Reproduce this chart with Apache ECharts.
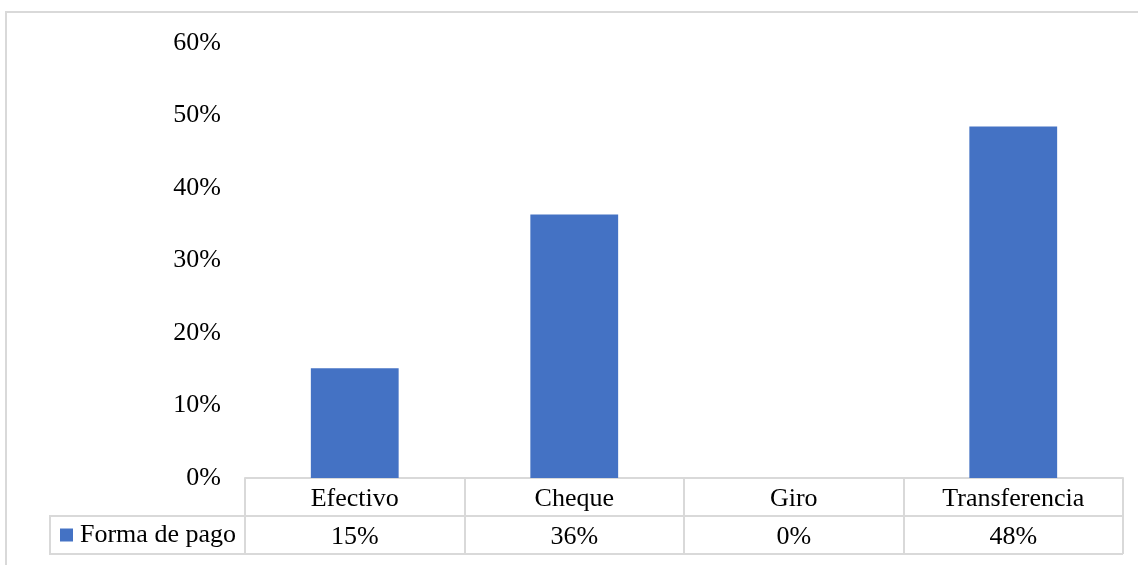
<!DOCTYPE html>
<html>
<head>
<meta charset="utf-8">
<script src="https://cdn.jsdelivr.net/npm/echarts@6/dist/echarts.min.js"></script>
<style>
html,body{margin:0;padding:0;background:#fff;}
#chart{width:1138px;height:565px;}
</style>
</head>
<body>
<div id="chart"></div>
<script>
var categories = ['Efectivo', 'Cheque', 'Giro', 'Transferencia'];
var seriesName = 'Forma de pago';
var values = [0.1515, 0.3636, 0, 0.4848];
var yTicks = { min: 0, max: 0.6, interval: 0.1 };

var FONT = 'Liberation Serif';
var FS = 26;
var LINE = '#d9d9d9';
var pct = function (v) { return Math.round(v * 100) + '%'; };
var valueLabels = values.map(pct);

var chart = echarts.init(document.getElementById('chart'));
chart.setOption({
  animation: false,
  backgroundColor: '#fff',
  textStyle: { fontFamily: FONT },
  grid: { left: 245, right: 15, top: 43, bottom: 87, containLabel: false },
  legend: {
    data: [seriesName],
    left: 60, top: 522, padding: 0,
    icon: 'rect', itemWidth: 13, itemHeight: 13,
    textStyle: { fontFamily: FONT, fontSize: FS, color: '#000', padding: [0, 0, 0, 2] },
    selectedMode: false
  },
  xAxis: [{
    type: 'category',
    data: categories,
    position: 'bottom',
    axisLine: { show: true, lineStyle: { color: LINE, width: 2 } },
    axisTick: { show: true, length: 38, interval: 0, lineStyle: { color: LINE, width: 2 } },
    axisLabel: { margin: 21, verticalAlign: 'middle', fontFamily: FONT, fontSize: FS, color: '#000', interval: 0 }
  }, {
    type: 'category',
    data: valueLabels,
    position: 'bottom',
    offset: 38,
    axisLine: { show: true, lineStyle: { color: LINE, width: 2 } },
    axisTick: { show: true, length: 38, interval: 0, lineStyle: { color: LINE, width: 2 } },
    axisLabel: { margin: 21, verticalAlign: 'middle', fontFamily: FONT, fontSize: FS, color: '#000', interval: 0 }
  }],
  yAxis: {
    type: 'value',
    min: yTicks.min, max: yTicks.max, interval: yTicks.interval,
    axisLine: { show: false },
    axisTick: { show: false },
    splitLine: { show: false },
    axisLabel: { margin: 24, fontFamily: FONT, fontSize: FS, color: '#000', formatter: pct, padding: [3, 0, 0, 0] }
  },
  series: [{
    name: seriesName,
    type: 'bar',
    data: values,
    barWidth: '40%',
    itemStyle: { color: '#4472C4' }
  }],
  graphic: [
    { type: 'rect', silent: true, shape: { x: 6, y: 12, width: 1150, height: 600 },
      style: { fill: 'none', stroke: LINE, lineWidth: 2 } },
    { type: 'rect', silent: true, shape: { x: 50, y: 516, width: 195, height: 38 },
      style: { fill: 'none', stroke: LINE, lineWidth: 2 } },
    { type: 'line', silent: true, shape: { x1: 245, y1: 554, x2: 1123, y2: 554 },
      style: { stroke: LINE, lineWidth: 2 } }
  ]
});
</script>
</body>
</html>
